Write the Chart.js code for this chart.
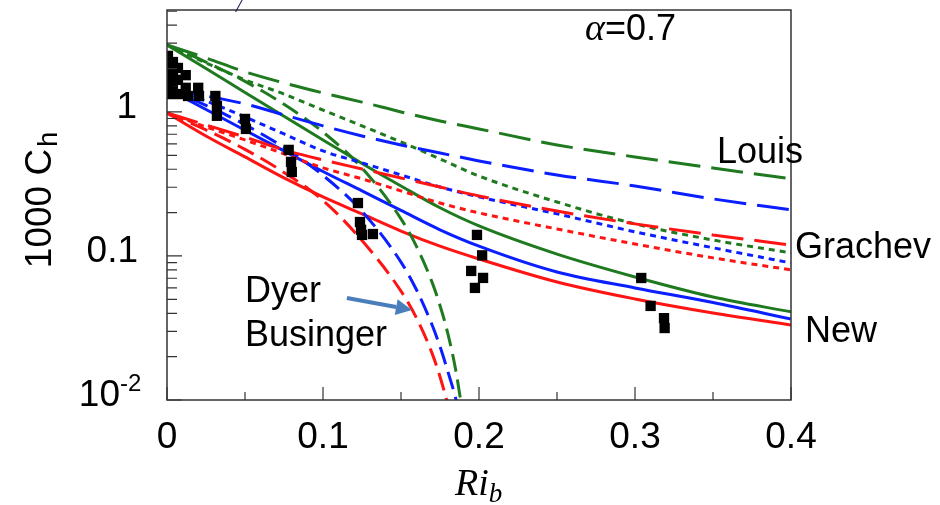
<!DOCTYPE html>
<html>
<head>
<meta charset="utf-8">
<script src="https://cdn.jsdelivr.net/npm/chart.js@4.4.1/dist/chart.umd.min.js"></script>
<style>
  html, body { margin: 0; padding: 0; background: #fff; }
  #wrap { width: 940px; height: 505px; }
</style>
</head>
<body>
<div id="wrap"><canvas id="chCanvas" width="940" height="505"></canvas></div>
<script>
// Ri_b grid for the Louis / Grachev / New curves
const riGrid = [0, 0.025, 0.05, 0.075, 0.1, 0.125, 0.15, 0.175, 0.2, 0.25, 0.3, 0.35, 0.4];

// Louis (long dashes)
const louisGreen = [2.92, 2.37, 1.90, 1.59, 1.355, 1.17, 1.0, 0.866, 0.762, 0.59, 0.487, 0.408, 0.343];
const louisBlue  = [1.445, 1.29, 1.137, 0.953, 0.80, 0.681, 0.59, 0.519, 0.457, 0.365, 0.306, 0.249, 0.209];
const louisRed   = [0.984, 0.812, 0.67, 0.545, 0.464, 0.402, 0.348, 0.301, 0.261, 0.205, 0.167, 0.140, 0.119];

// Grachev (dotted)
const grachevGreen = [2.92, 2.19, 1.67, 1.33, 1.03, 0.80, 0.619, 0.472, 0.359, 0.237, 0.167, 0.129, 0.105];
const grachevBlue  = [1.445, 1.19, 0.923, 0.703, 0.536, 0.443, 0.365, 0.301, 0.257, 0.196, 0.147, 0.114, 0.0894];
const grachevRed   = [0.984, 0.787, 0.639, 0.511, 0.409, 0.343, 0.283, 0.233, 0.199, 0.154, 0.121, 0.097, 0.080];

// New (solid)
const newGreen = [2.92, 2.0, 1.364, 0.932, 0.639, 0.439, 0.306, 0.216, 0.1616, 0.103, 0.0715, 0.0519, 0.0409];
const newBlue  = [1.445, 1.04, 0.746, 0.536, 0.386, 0.283, 0.207, 0.152, 0.117, 0.0774, 0.060, 0.0475, 0.0365];
const newRed   = [0.984, 0.681, 0.487, 0.348, 0.257, 0.196, 0.149, 0.117, 0.0953, 0.066, 0.0503, 0.0402, 0.0332];

// Dyer-Businger (medium dashes), falls off the axis near Ri_b = 0.18-0.19
const dbRi    = [0, 0.025, 0.05, 0.075, 0.1, 0.125, 0.15, 0.16, 0.17, 0.175, 0.18, 0.185, 0.19, 0.195];
const dbGreen = [2.92, 2.22, 1.63, 1.13, 0.725, 0.408, 0.181, 0.116, 0.0653, 0.0453, 0.029, 0.0163, 0.0075, 0.0035];
const dbBlue  = [1.445, 1.11, 0.816, 0.566, 0.3625, 0.204, 0.0906, 0.058, 0.033, 0.0235, 0.0158, 0.0103, 0.0058, 0.003];
const dbRed   = [0.984, 0.75, 0.55, 0.38, 0.243, 0.128, 0.057, 0.037, 0.021, 0.0145, 0.0093, 0.0055, 0.003, 0.0015];

// measured points (black squares)
const obsRi = [0.0006, 0.0006, 0.0006, 0.0006, 0.0006, 0.0038, 0.0038, 0.0038, 0.0038, 0.007, 0.007, 0.007,
               0.012, 0.012, 0.0135, 0.020, 0.0205, 0.031, 0.032, 0.032, 0.050, 0.0506,
               0.078, 0.0795, 0.080, 0.1224, 0.1237, 0.1244, 0.125, 0.132,
               0.1987, 0.202, 0.195, 0.2026, 0.1974, 0.304, 0.310, 0.3186, 0.319];
const obsC  = [2.45, 2.08, 1.78, 1.52, 1.33, 2.22, 1.90, 1.62, 1.38, 2.02, 1.67, 1.33,
               1.80, 1.47, 1.29, 1.47, 1.29, 1.29, 1.10, 0.94, 0.894, 0.762,
               0.545, 0.45, 0.383, 0.233, 0.172, 0.152, 0.14, 0.142,
               0.14, 0.101, 0.0787, 0.0704, 0.060, 0.0703, 0.045, 0.037, 0.0316];

// axis ticks
const xMajorTicks = [0, 0.1, 0.2, 0.3, 0.4];
const xTickLabels = ['0', '0.1', '0.2', '0.3', '0.4'];
const xMinorTicks = [0.05, 0.15, 0.25, 0.35];
const yMajorTicks = [0.01, 0.1, 1];
const yMinorTicks = [0.02, 0.03, 0.04, 0.05, 0.06, 0.07, 0.08, 0.09,
                     0.2, 0.3, 0.4, 0.5, 0.6, 0.7, 0.8, 0.9, 2, 3, 4, 5];

const GREEN = '#1f7a1f';
const BLUE = '#0a1eff';
const RED = '#ff1414';
const LONG_DASH = [32, 11];
const MID_DASH = [18, 8];
const DOTS = [6, 5];

// text labels placed in data coordinates
const notes = [
    { text: 'Louis',    x: 0.3526, y: 0.442 },
    { text: 'Grachev',  x: 0.4026, y: 0.0969 },
    { text: 'New',      x: 0.409,  y: 0.0253 },
    { text: 'Dyer',     x: 0.05,   y: 0.048 },
    { text: 'Businger', x: 0.05,   y: 0.0237 }
];
const alphaNote = { x: 0.268, y: 3.16 };
const arrowNote = { x0: 0.1153, y0: 0.051, x1: 0.157, y1: 0.0422 };


function curve(ri, vals, color, dash) {
    return {
        data: ri.map((r, i) => ({ x: r, y: vals[i] })),
        borderColor: color,
        borderWidth: 3,
        borderDash: dash,
        pointRadius: 0,
        fill: false,
        cubicInterpolationMode: 'monotone',
        order: 1
    };
}


// frame, inward ticks, tick labels, titles and notes
const decorPlugin = {
    id: 'decor',
    afterDraw(chart) {
        const ctx = chart.ctx;
        const a = chart.chartArea;
        const xs = chart.scales.x;
        const ys = chart.scales.y;
        ctx.save();

        ctx.strokeStyle = '#333';
        ctx.lineWidth = 1.5;
        ctx.strokeRect(a.left, a.top, a.right - a.left, a.bottom - a.top);

        ctx.lineWidth = 1.2;
        ctx.beginPath();
        xMajorTicks.forEach(v => {
            const px = xs.getPixelForValue(v);
            ctx.moveTo(px, a.bottom); ctx.lineTo(px, a.bottom - 13);
        });
        xMinorTicks.forEach(v => {
            const px = xs.getPixelForValue(v);
            ctx.moveTo(px, a.bottom); ctx.lineTo(px, a.bottom - 8);
        });
        yMajorTicks.forEach(v => {
            const py = ys.getPixelForValue(v);
            ctx.moveTo(a.left, py); ctx.lineTo(a.left + 15, py);
        });
        yMinorTicks.forEach(v => {
            const py = ys.getPixelForValue(v);
            if (py < a.top) return;
            ctx.moveTo(a.left, py); ctx.lineTo(a.left + 10, py);
        });
        ctx.stroke();

        ctx.fillStyle = '#000';
        ctx.font = '37px "Liberation Sans", Arial, sans-serif';
        ctx.textBaseline = 'middle';

        // x tick labels
        ctx.textAlign = 'center';
        xMajorTicks.forEach((v, i) => {
            ctx.fillText(xTickLabels[i], xs.getPixelForValue(v), 438);
        });

        // y tick labels
        ctx.textAlign = 'right';
        ctx.fillText('1', a.left - 30, ys.getPixelForValue(1) - 4);
        ctx.fillText('0.1', a.left - 29, ys.getPixelForValue(0.1) - 4);
        ctx.fillText('10', a.left - 47, ys.getPixelForValue(0.01) - 4);
        ctx.textAlign = 'left';
        ctx.font = '24px "Liberation Sans", Arial, sans-serif';
        ctx.fillText('-2', a.left - 47, ys.getPixelForValue(0.01) - 16);

        // y title
        ctx.save();
        ctx.translate(38, 200);
        ctx.rotate(-Math.PI / 2);
        ctx.font = '37px "Liberation Sans", Arial, sans-serif';
        const mainW = ctx.measureText('1000 C').width;
        ctx.font = '27px "Liberation Sans", Arial, sans-serif';
        const subW = ctx.measureText('h').width;
        const startX = -(mainW + subW + 2) / 2;
        ctx.textAlign = 'left';
        ctx.textBaseline = 'alphabetic';
        ctx.font = '37px "Liberation Sans", Arial, sans-serif';
        ctx.fillText('1000 C', startX, 13);
        ctx.font = '27px "Liberation Sans", Arial, sans-serif';
        ctx.fillText('h', startX + mainW + 2, 19);
        ctx.restore();

        // x title
        ctx.textBaseline = 'alphabetic';
        ctx.textAlign = 'left';
        ctx.font = 'italic 38px "Liberation Serif", "Times New Roman", serif';
        ctx.fillText('Ri', 455, 495);
        const riW = ctx.measureText('Ri').width;
        ctx.font = 'italic 27px "Liberation Serif", "Times New Roman", serif';
        ctx.fillText('b', 455 + riW, 502);

        // alpha note
        const ax = xs.getPixelForValue(alphaNote.x);
        const ay = ys.getPixelForValue(alphaNote.y);
        ctx.font = 'italic 38px "Liberation Serif", "Times New Roman", serif';
        ctx.fillText('\u03b1', ax, ay);
        const alW = ctx.measureText('\u03b1').width;
        ctx.font = '36px "Liberation Sans", Arial, sans-serif';
        ctx.fillText('=0.7', ax + alW, ay);

        // curve names
        ctx.font = '36px "Liberation Sans", Arial, sans-serif';
        notes.forEach(n => {
            ctx.fillText(n.text, xs.getPixelForValue(n.x), ys.getPixelForValue(n.y));
        });

        // arrow to the Dyer-Businger curves
        const x0 = xs.getPixelForValue(arrowNote.x0), y0 = ys.getPixelForValue(arrowNote.y0);
        const x1 = xs.getPixelForValue(arrowNote.x1), y1 = ys.getPixelForValue(arrowNote.y1);
        const ang = Math.atan2(y1 - y0, x1 - x0);
        const headLen = 16, headW = 8;
        const bx = x1 - headLen * Math.cos(ang), by = y1 - headLen * Math.sin(ang);
        ctx.strokeStyle = '#4a7ebb';
        ctx.fillStyle = '#4a7ebb';
        ctx.lineWidth = 4;
        ctx.beginPath();
        ctx.moveTo(x0, y0);
        ctx.lineTo(bx, by);
        ctx.stroke();
        ctx.beginPath();
        ctx.moveTo(x1, y1);
        ctx.lineTo(bx + headW * Math.sin(ang), by - headW * Math.cos(ang));
        ctx.lineTo(bx - headW * Math.sin(ang), by + headW * Math.cos(ang));
        ctx.closePath();
        ctx.fill();

        // cut-off mark at the very top
        ctx.fillStyle = '#1a1a40';
        ctx.font = 'italic 22px "Liberation Serif", serif';
        ctx.fillText('/', 236, 12);

        ctx.restore();
    }
};


const ctx = document.getElementById('chCanvas').getContext('2d');
const chart = new Chart(ctx, {
    type: 'line',
    data: {
        datasets: [
            {
                type: 'scatter',
                data: obsRi.map((r, i) => ({ x: r, y: obsC[i] })),
                pointStyle: 'rect',
                pointRadius: 7.3,
                backgroundColor: '#000',
                borderColor: '#000',
                borderWidth: 0,
                showLine: false,
                order: 0
            },
            curve(riGrid, louisGreen, GREEN, LONG_DASH),
            curve(riGrid, louisBlue, BLUE, LONG_DASH),
            curve(riGrid, louisRed, RED, LONG_DASH),
            curve(riGrid, grachevGreen, GREEN, DOTS),
            curve(riGrid, grachevBlue, BLUE, DOTS),
            curve(riGrid, grachevRed, RED, DOTS),
            curve(dbRi, dbGreen, GREEN, MID_DASH),
            curve(dbRi, dbBlue, BLUE, MID_DASH),
            curve(dbRi, dbRed, RED, MID_DASH),
            curve(riGrid, newGreen, GREEN, []),
            curve(riGrid, newBlue, BLUE, []),
            curve(riGrid, newRed, RED, [])
        ]
    },
    options: {
        responsive: false,
        animation: false,
        devicePixelRatio: 1,
        events: [],
        layout: { padding: { left: 0, right: 149, top: 10, bottom: 0 } },
        scales: {
            x: {
                type: 'linear',
                min: 0,
                max: 0.4,
                ticks: { display: false },
                grid: { display: false },
                border: { display: false },
                afterFit: (s) => { s.height = 105; }
            },
            y: {
                type: 'logarithmic',
                min: 0.01,
                max: 5.1,
                ticks: { display: false },
                grid: { display: false },
                border: { display: false },
                afterFit: (s) => { s.width = 167; }
            }
        },
        plugins: {
            legend: { display: false },
            tooltip: { enabled: false }
        }
    },
    plugins: [decorPlugin]
});
</script>
</body>
</html>
